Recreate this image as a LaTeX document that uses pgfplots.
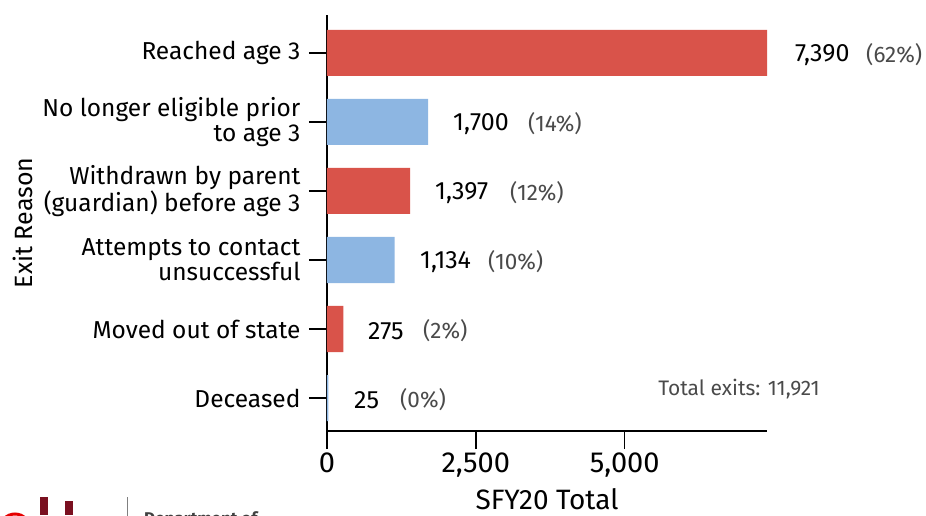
\documentclass[border=0pt]{standalone}
\usepackage{pgfplots}
\pgfplotsset{compat=1.18}
\usepackage{fontspec}
\setmainfont{Fira Sans}
\definecolor{barred}{HTML}{D9534A}
\definecolor{barblue}{HTML}{8DB6E2}
\definecolor{pctgray}{HTML}{4A4A4A}
\definecolor{maroon}{HTML}{7A1020}
\begin{document}
\begin{tikzpicture}
\begin{axis}[
  at={(0pt,0pt)}, anchor=south west,
  scale only axis, width=440pt, height=416pt,
  xbar, bar width=0.667, bar shift=0pt,
  xmin=0, xmax=7390, ymin=-0.478, ymax=5.55,
  axis lines=left, axis line style={-, line width=1.3pt, black},
  every tick/.style={black, line width=1.3pt},
  tick align=outside, major tick length=18pt,
  xtick={0,2500,5000},
  ytick={0,1,2,3,4,5},
  yticklabels={Deceased, Moved out of state, {Attempts to contact\\unsuccessful}, {Withdrawn by parent\\(guardian) before age 3}, {No longer eligible prior\\to age 3}, Reached age 3},
  yticklabel style={align=right, font=\fontsize{24.5}{25}\selectfont, xshift=-5pt},
  xticklabel style={font=\fontsize{29}{32}\selectfont, yshift=0pt},
  /pgf/number format/assume math mode=true,
  /pgf/number format/1000 sep={,},
  scaled x ticks=false,
  xlabel={SFY20 Total},
  xlabel style={at={(axis description cs:0.5,-0.163)}, anchor=center, font=\fontsize{28}{32}\selectfont},
  ylabel={Exit Reason},
  ylabel style={at={(axis description cs:-0.69,0.5)}, anchor=center, font=\fontsize{25}{28}\selectfont},
  clip=false,
]
\addplot[fill=barred, draw=none] coordinates {(7390,5) (1397,3) (275,1)};
\addplot[fill=barblue, draw=none] coordinates {(1700,4) (1134,2) (25,0)};
\begin{scope}[every node/.style={inner sep=0pt, anchor=west}]
\node[font=\fontsize{25}{28}\selectfont] at (axis cs:7860,4.97) {7,390};
\node[font=\fontsize{22.5}{25}\selectfont, text=pctgray] at (axis cs:9053,4.97) {(62\%)};
\node[font=\fontsize{25}{28}\selectfont] at (axis cs:2116,3.97) {1,700};
\node[font=\fontsize{22.5}{25}\selectfont, text=pctgray] at (axis cs:3376,3.97) {(14\%)};
\node[font=\fontsize{25}{28}\selectfont] at (axis cs:1814,2.97) {1,397};
\node[font=\fontsize{22.5}{25}\selectfont, text=pctgray] at (axis cs:3073,2.97) {(12\%)};
\node[font=\fontsize{25}{28}\selectfont] at (axis cs:1562,1.97) {1,134};
\node[font=\fontsize{22.5}{25}\selectfont, text=pctgray] at (axis cs:2704,1.97) {(10\%)};
\node[font=\fontsize{25}{28}\selectfont] at (axis cs:689,0.97) {275};
\node[font=\fontsize{22.5}{25}\selectfont, text=pctgray] at (axis cs:1612,0.97) {(2\%)};
\node[font=\fontsize{25}{28}\selectfont] at (axis cs:453,-0.03) {25};
\node[font=\fontsize{22.5}{25}\selectfont, text=pctgray] at (axis cs:1226,-0.03) {(0\%)};
\node[font=\fontsize{21}{25}\selectfont, text=pctgray, anchor=east] at (axis cs:8280,0.131) {Total exits: 11,921};
\end{scope}
\end{axis}
% partial logo at the bottom edge
\draw[red!90!black, line width=3pt] (-312pt,-98pt) circle (15pt);
\fill[maroon] (-287pt,-84pt) rectangle (-279pt,-66pt);
\fill[maroon] (-262pt,-84pt) rectangle (-254pt,-70pt);
\draw[gray, line width=0.8pt] (-200pt,-66pt) -- (-200pt,-90pt);
\node[anchor=base west, inner sep=0pt, text=darkgray, font=\bfseries\fontsize{17}{20}\selectfont] at (-183pt,-93pt) {Department of};
\pgfresetboundingbox
\path[use as bounding box] (-327pt,-84pt) rectangle (599pt,431pt);
\end{tikzpicture}
\end{document}
